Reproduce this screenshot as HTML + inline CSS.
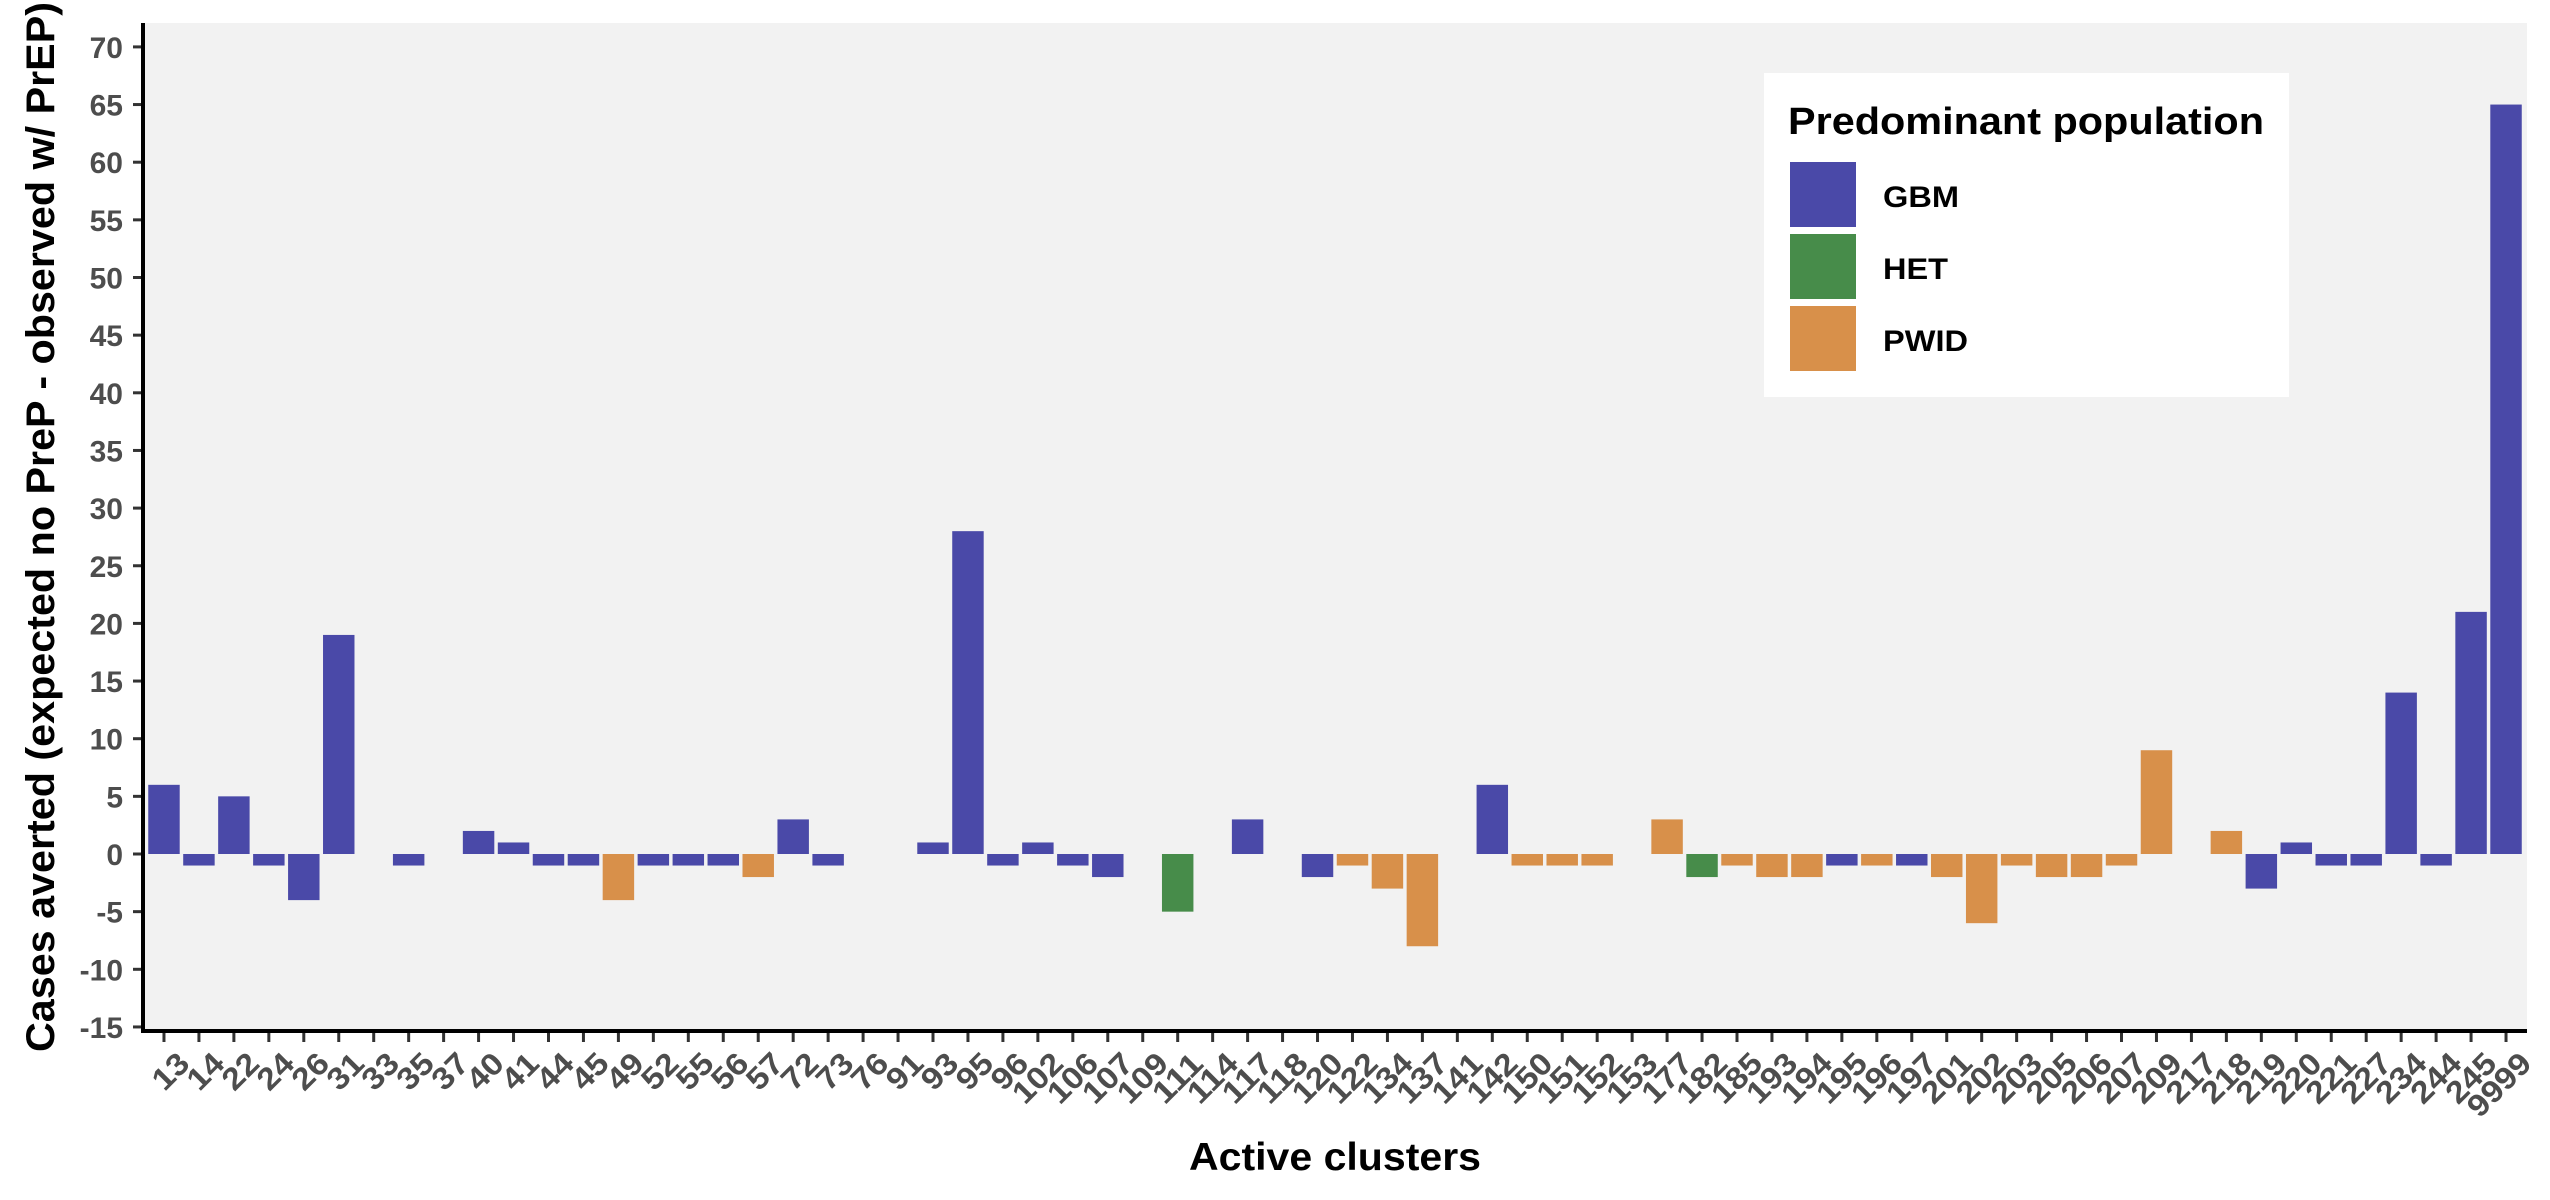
<!DOCTYPE html>
<html><head><meta charset="utf-8">
<style>
html,body{margin:0;padding:0;background:#fff;}
svg{display:block;font-family:"Liberation Sans",sans-serif;}
</style></head>
<body>
<svg id="chart" width="2550" height="1200" viewBox="0 0 2550 1200" xmlns="http://www.w3.org/2000/svg">
<rect x="143" y="23" width="2384" height="1007" fill="#F2F2F2"/>
<g id="bars"></g>
<g id="yaxis"></g>
<g id="xaxis"></g>
<line x1="143" y1="23" x2="143" y2="1032" stroke="#000" stroke-width="4"/>
<line x1="141" y1="1031" x2="2527" y2="1031" stroke="#000" stroke-width="4"/>
<text transform="translate(54,527) rotate(-90)" text-anchor="middle" font-size="40" font-weight="bold" textLength="1050" lengthAdjust="spacingAndGlyphs">Cases averted (expected no PreP - observed w/ PrEP)</text>
<text x="1335" y="1170" text-anchor="middle" font-size="39" font-weight="bold" textLength="292" lengthAdjust="spacingAndGlyphs">Active clusters</text>
<g>
<rect x="1764" y="73" width="525" height="324" fill="#fff"/>
<text x="1788" y="134" font-size="38" font-weight="bold" textLength="476" lengthAdjust="spacingAndGlyphs">Predominant population</text>
<rect x="1790" y="162" width="66" height="65" fill="#4A49A8"/>
<text x="1883" y="207" font-size="30" font-weight="bold" textLength="76" lengthAdjust="spacingAndGlyphs">GBM</text>
<rect x="1790" y="234" width="66" height="65" fill="#478C4A"/>
<text x="1883" y="279" font-size="30" font-weight="bold" textLength="65" lengthAdjust="spacingAndGlyphs">HET</text>
<rect x="1790" y="306" width="66" height="65" fill="#D8904A"/>
<text x="1883" y="351" font-size="30" font-weight="bold" textLength="85" lengthAdjust="spacingAndGlyphs">PWID</text>
</g>
</svg>
<script>
const categories = ["13","14","22","24","26","31","33","35","37","40","41","44","45","49","52","55","56","57","72","73","76","91","93","95","96","102","106","107","109","111","114","117","118","120","122","134","137","141","142","150","151","152","153","177","182","185","193","194","195","196","197","201","202","203","205","206","207","209","217","218","219","220","221","227","234","244","245","9999"];
const values = [6,-1,5,-1,-4,19,0,-1,0,2,1,-1,-1,-4,-1,-1,-1,-2,3,-1,0,0,1,28,-1,1,-1,-2,0,-5,0,3,0,-2,-1,-3,-8,0,6,-1,-1,-1,0,3,-2,-1,-2,-2,-1,-1,-1,-2,-6,-1,-2,-2,-1,9,0,2,-3,1,-1,-1,14,-1,21,65];
const groups = ["G","G","G","G","G","G","G","G","G","G","G","G","G","P","G","G","G","P","G","G","G","G","G","G","G","G","G","G","G","H","G","G","G","G","P","P","P","G","G","P","P","P","G","P","H","P","P","P","G","P","G","P","P","P","P","P","P","P","G","P","G","G","G","G","G","G","G","G"];
const yTicks = [-15,-10,-5,0,5,10,15,20,25,30,35,40,45,50,55,60,65,70];
const colors = {G:"#4A49A8",H:"#478C4A",P:"#D8904A"};
const NS="http://www.w3.org/2000/svg";
const left=143,right=2527,n=categories.length;
const unit=(right-left)/(n-1+1.2);
function xScale(i){return left+(0.6+i)*unit;}
function yScale(v){return 854-v*(57.65/5);}
const bars=document.getElementById('bars');
categories.forEach((c,i)=>{
  const v=values[i];
  const r=document.createElementNS(NS,'rect');
  
  
  const y0=yScale(0),y1=yScale(v);
  r.setAttribute('x',xScale(i)-unit*0.45);
  r.setAttribute('width',unit*0.9);
  r.setAttribute('y',Math.min(y0,y1));
  r.setAttribute('height',Math.abs(y1-y0));
  r.setAttribute('fill',colors[groups[i]]);
  bars.appendChild(r);
});
const ya=document.getElementById('yaxis');
yTicks.forEach(t=>{
  const y=yScale(t);
  const l=document.createElementNS(NS,'line');
  
  
  l.setAttribute('x1',133);l.setAttribute('x2',143);l.setAttribute('y1',y);l.setAttribute('y2',y);
  l.setAttribute('stroke','#333');l.setAttribute('stroke-width',3);
  ya.appendChild(l);
  const tx=document.createElementNS(NS,'text');
  
  
  tx.setAttribute('x',123);tx.setAttribute('y',y+11);
  tx.setAttribute('text-anchor','end');tx.setAttribute('font-size','30');
  tx.setAttribute('font-weight','bold');tx.setAttribute('fill','#4d4d4d');
  tx.textContent=String(t);
  ya.appendChild(tx);
});
const xa=document.getElementById('xaxis');
categories.forEach((c,i)=>{
  const x=xScale(i);
  const l=document.createElementNS(NS,'line');
  
  
  l.setAttribute('x1',x);l.setAttribute('x2',x);l.setAttribute('y1',1031);l.setAttribute('y2',1042);
  l.setAttribute('stroke','#333');l.setAttribute('stroke-width',3);
  xa.appendChild(l);
  const tx=document.createElementNS(NS,'text');
  
  
  tx.setAttribute('transform','translate('+(x+12)+',1050) rotate(-45)');
  tx.setAttribute('text-anchor','end');tx.setAttribute('font-size','31');
  tx.setAttribute('font-weight','bold');tx.setAttribute('fill','#4d4d4d');
  tx.setAttribute('dy','0.7em');
  tx.setAttribute('textLength',c.length*19);
  tx.setAttribute('lengthAdjust','spacingAndGlyphs');
  tx.textContent=c;
  xa.appendChild(tx);
});
</script>
</body></html>
